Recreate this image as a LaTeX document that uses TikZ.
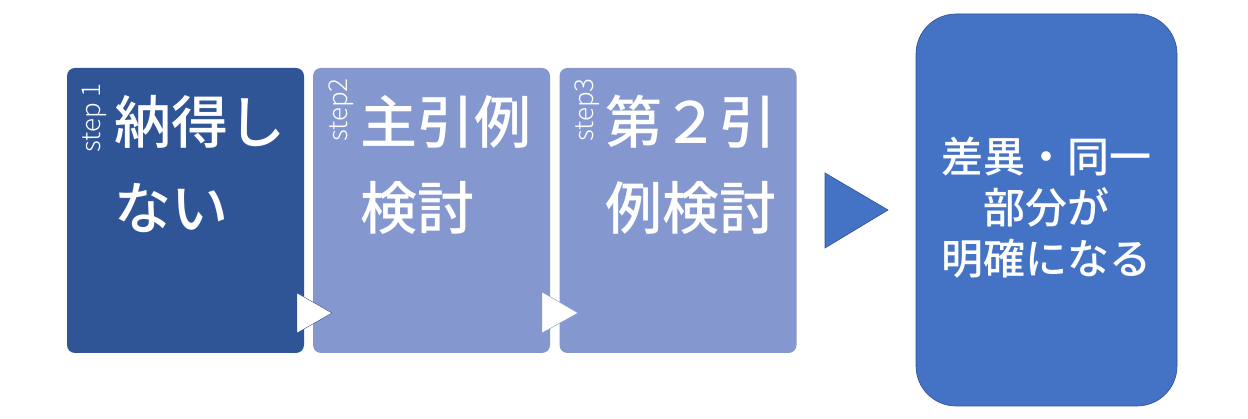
\documentclass[tikz,border=0pt]{standalone}
\usepackage{fontspec}
\setmainfont{Noto Sans CJK JP}[UprightFont=* Medium]
\newfontfamily\stepfont{Noto Sans CJK JP}[UprightFont=* Light]
\definecolor{stepdark}{HTML}{2F5597}
\definecolor{steplight}{HTML}{8497CF}
\definecolor{resultblue}{HTML}{4472C4}
\definecolor{resultline}{HTML}{2F528F}
\begin{document}
\begin{tikzpicture}[x=1pt,y=1pt,
    every node/.append style={inner sep=0pt,text=white},
    stepbox/.style={rectangle,rounded corners=8pt,minimum width=237pt,minimum height=285pt},
    steplabel/.style={rotate=90,anchor=base east,font=\stepfont\fontsize{26}{26}\selectfont},
    steptext/.style={anchor=north west,align=left,font=\fontsize{57}{86}\selectfont}]
  \useasboundingbox (0,0) rectangle (1248,419);

  \node[stepbox,fill=stepdark] (Step1) at (185.5,208.5) {};
  \node[stepbox,fill=steplight] (Step2) at (431.5,208.5) {};
  \node[stepbox,fill=steplight] (Step3) at (678,208.5) {};
  \node[rectangle,rounded corners=40pt,fill=resultblue,draw=resultline,line width=0.6pt,
        minimum width=261pt,minimum height=392pt] (Result) at (1046.5,209) {};

  \filldraw[fill=white,draw=stepdark,line width=0.4pt] (297,126)--++(0,-40)--(332,106)--cycle;
  \filldraw[fill=white,draw=steplight,line width=0.4pt] (542,127)--++(0,-41)--(578,106)--cycle;
  \filldraw[fill=resultblue,draw=resultline,line width=0.6pt] (825,246)--++(0,-75)--(888,209)--cycle;

  \node[steplabel] (Label1) at (100,336) {step 1};
  \node[steplabel] (Label2) at (347,341) {step2};
  \node[steplabel] (Label3) at (593,341) {step3};

  \node[steptext] (Text1) at (114,324) {納得し\\ない};
  \node[steptext] (Text2) at (360,324) {主引例\\検討};
  \node[steptext] (Text3) at (605,324) {第２引\\例検討};

  \node[align=center,font=\fontsize{42}{51}\selectfont] (ResultText) at (1046,211) {差異・同一\\部分が\\明確になる};
\end{tikzpicture}
\end{document}
